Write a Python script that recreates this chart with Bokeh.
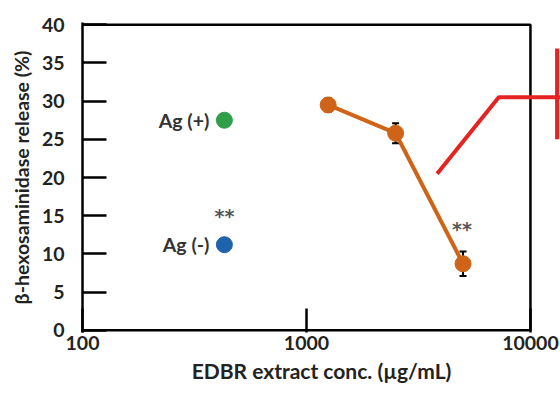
from bokeh.plotting import figure
from bokeh.models import Range1d, FixedTicker, ColumnDataSource, Whisker, CustomJSTickFormatter
from bokeh.core.properties import value
from bokeh.embed import file_html
from bokeh.resources import INLINE

# ---- data ----
conc = [1250, 2500, 5000]
release = [29.5, 25.8, 8.7]
release_err = [0.9, 1.3, 1.6]

ag_conc = [430, 430]
ag_release = [27.5, 11.2]
ag_labels = ["Ag (+)", "Ag (-)"]
ag_colors = ["#2E9E48", "#1F63AD"]

sig_x = [430, 4950]
sig_y = [14.9, 13.3]
sig_text = ["**", "**"]

x_ticks = [100, 1000, 10000]
y_ticks = [0, 5, 10, 15, 20, 25, 30, 35, 40]

# frame box of the plot (data coordinates)
box_x = [100, 10000, 10000, 100]
box_y = [40, 40, 0, 0]

# red connector decoration (partly outside plot box)
red_x = [3830, 7220, 20000]
red_y = [20.5, 30.5, 30.5]
red_vx = [13150, 13150]
red_vy = [36.9, 25.0]

FONT = "Lato"

p = figure(width=560, height=394, x_axis_type="log",
           x_range=Range1d(100, 13620), y_range=Range1d(-0.3, 40.3),
           output_backend="svg", toolbar_location=None,
           min_border_left=82, min_border_right=0, min_border_top=22, min_border_bottom=62)
p.outline_line_color = None
p.xgrid.grid_line_color = None
p.ygrid.grid_line_color = None
p.background_fill_color = "white"
p.border_fill_color = "white"

# axes
p.xaxis.ticker = FixedTicker(ticks=x_ticks, minor_ticks=[])
p.yaxis.ticker = FixedTicker(ticks=y_ticks, minor_ticks=[])
p.xaxis.axis_line_color = None
p.yaxis.axis_line_color = "black"
p.yaxis.axis_line_width = 2.5
for ax in (p.xaxis, p.yaxis):
    ax.major_tick_in = 24
    ax.major_tick_out = 0
    ax.major_tick_line_color = "black"
    ax.major_tick_line_width = 2.5
    ax.minor_tick_line_color = None
    ax.major_label_text_font = FONT
    ax.major_label_text_font_style = "bold"
    ax.major_label_text_font_size = "19.5px"
    ax.major_label_text_color = "#222222"
    ax.axis_label_text_font = FONT
    ax.axis_label_text_font_style = "bold"
    ax.axis_label_text_color = "#222222"
p.xaxis.axis_label_text_font_size = "21px"
p.yaxis.axis_label_text_font_size = "19.5px"
p.xaxis.major_label_standoff = 3
p.yaxis.major_label_standoff = 18
p.xaxis.axis_label = "EDBR extract conc. (µg/mL)"
p.yaxis.axis_label = "β-hexosaminidase release (%)"
p.xaxis.axis_label_standoff = 5
p.yaxis.axis_label_standoff = 6
p.xaxis.formatter = CustomJSTickFormatter(code="return Math.round(tick).toString();")

# frame box
p.line(box_x, box_y, line_color="black", line_width=2.5)

# red decoration
p.line(red_x, red_y, line_color="#E52421", line_width=4)
p.line(red_vx, red_vy, line_color="#E52421", line_width=4)

# series with error bars
src = ColumnDataSource(dict(x=conc, y=release,
                            lo=[v - e for v, e in zip(release, release_err)],
                            hi=[v + e for v, e in zip(release, release_err)]))
w = Whisker(source=src, base="x", lower="lo", upper="hi", line_color="black", line_width=2)
w.upper_head.size = 7
w.lower_head.size = 7
w.upper_head.line_width = 2
w.lower_head.line_width = 2
p.add_layout(w)
p.line("x", "y", source=src, line_color="#CF6418", line_width=4)
p.scatter("x", "y", source=src, size=16, fill_color="#CF6418", line_color="#CF6418")

# Ag controls
ag_src = ColumnDataSource(dict(x=ag_conc, y=ag_release, t=ag_labels, c=ag_colors))
p.scatter("x", "y", source=ag_src, size=16, fill_color="c", line_color="c")
p.text("x", "y", text="t", source=ag_src, x_offset=-15, text_align="right",
       text_baseline="middle", text_font=value(FONT), text_font_style="bold",
       text_font_size="19.5px", text_color="#333333")

# significance marks
p.text(sig_x, sig_y, text=sig_text, text_align="center", text_baseline="middle",
       text_font=value("DejaVu Sans"), text_font_style="bold",
       text_font_size="19px", text_color="#555555")

open("out.html", "w").write(file_html(p, INLINE))
